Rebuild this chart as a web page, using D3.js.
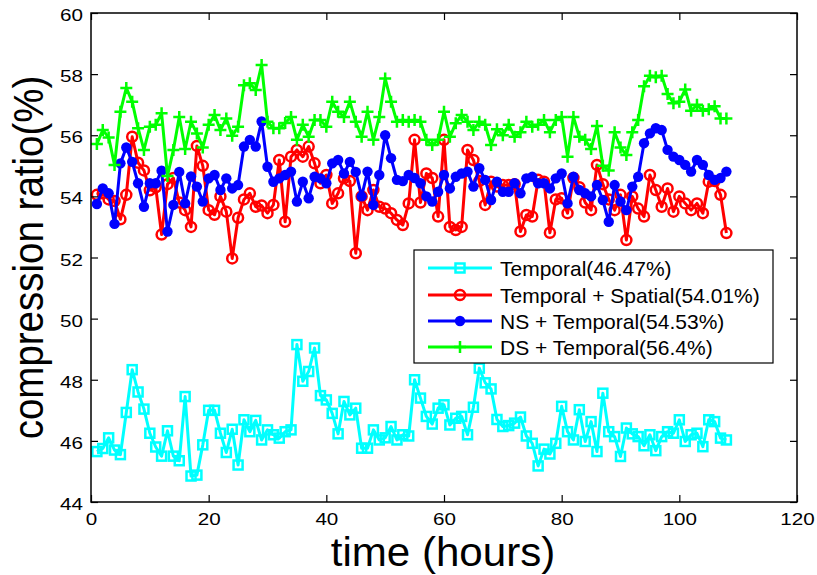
<!DOCTYPE html>
<html><head><meta charset="utf-8">
<script src="https://cdn.jsdelivr.net/npm/d3@7"></script>
<style>body{margin:0;background:#fff}svg{display:block}text{font-family:"Liberation Sans",Arial,sans-serif}</style>
</head><body><svg id="c" width="817" height="575"></svg>
<script>
const hours = d3.range(1, 109);
const temporal = [45.65,45.75,46.1,45.7,45.55,46.93,48.33,47.6,47.04,46.25,45.8,45.5,46.33,45.5,45.35,47.45,44.85,44.88,45.87,47.0,47.0,46.25,45.62,46.38,45.21,46.69,46.3,46.67,46.03,46.36,46.2,46.09,46.3,46.36,49.15,47.95,48.27,49.04,47.48,47.34,46.9,46.23,47.29,46.85,47.07,45.76,45.76,46.36,46.03,46.1,46.47,46.03,46.2,46.16,48.0,47.4,46.8,46.55,47.07,47.18,46.52,46.74,46.8,46.2,47.1,48.38,47.9,47.7,46.7,46.47,46.5,46.58,46.78,46.16,45.92,45.18,45.73,45.57,45.92,47.13,46.3,46.03,47.02,45.98,46.63,45.65,47.56,46.3,46.14,45.49,46.42,46.23,46.14,45.84,46.2,45.68,46.14,46.3,46.25,46.69,45.98,46.2,46.25,45.81,46.69,46.63,46.09,46.03];
const temporalSpatial = [54.05,54.1,53.9,53.85,53.25,54.05,55.95,55.1,54.85,54.2,54.3,52.75,54.4,54.6,53.8,53.55,53.0,55.65,55.0,53.55,53.4,54.0,53.5,51.97,53.3,53.9,54.1,53.66,53.7,53.45,53.72,55.19,53.17,55.3,55.52,55.3,55.63,55.08,54.43,54.7,53.77,54.1,54.59,54.5,52.14,54.0,53.55,54.21,53.66,53.6,53.45,53.23,53.06,53.77,55.85,53.8,54.75,54.6,53.34,55.85,53.0,52.9,53.0,55.52,55.19,54.5,53.72,54.48,54.32,54.37,54.37,54.4,52.85,53.39,53.34,54.54,54.48,52.81,53.9,53.94,53.45,54.6,54.3,53.8,53.55,55.03,54.4,53.9,53.55,54.05,52.57,54.0,53.6,53.34,54.7,54.21,53.66,54.26,53.5,54.0,53.77,53.55,53.77,53.45,54.48,54.5,54.05,52.8];
const nsTemporal = [53.75,54.26,54.1,53.1,55.08,55.6,55.13,54.43,53.66,54.43,54.43,54.84,52.85,53.72,54.8,53.77,54.65,54.32,53.83,54.59,54.7,54.21,54.59,54.26,54.37,55.63,55.85,55.63,56.45,54.97,54.48,54.59,54.7,54.81,53.83,54.48,53.94,54.64,54.59,54.43,55.08,55.19,54.75,55.13,54.8,54.0,54.81,53.72,54.7,56.0,55.25,54.54,54.5,54.7,54.6,54.43,54.0,53.83,54.15,54.7,54.26,54.64,54.75,54.81,54.32,54.92,54.54,53.88,54.48,54.15,54.15,54.43,54.1,54.59,54.64,54.43,54.43,54.26,54.59,54.75,53.77,54.64,54.21,54.1,54.0,54.37,53.88,53.17,54.37,53.83,53.55,54.32,54.64,55.74,56.06,56.23,56.17,55.52,55.3,55.19,55.03,54.81,55.19,55.03,54.7,54.54,54.6,54.81];
const dsTemporal = [55.71,56.17,55.93,55.03,56.77,57.55,57.1,56.23,55.52,56.28,56.34,56.72,54.67,55.52,56.6,55.55,56.44,56.06,55.6,56.34,56.66,56.17,56.55,55.98,56.28,57.64,57.7,57.48,58.3,56.44,56.23,56.23,56.4,56.6,55.85,56.34,55.95,56.5,56.5,56.28,57.1,56.77,56.6,57.1,56.44,55.95,56.77,55.85,56.6,57.86,57.1,56.44,56.5,56.44,56.5,56.44,55.85,55.68,55.85,56.77,55.95,56.39,56.66,56.44,56.17,56.44,56.34,55.68,56.2,56.0,56.34,55.95,56.1,56.44,56.28,56.34,56.5,56.1,56.5,56.6,55.3,56.6,55.95,55.85,55.55,56.3,55.0,54.85,56.1,55.6,55.35,56.1,56.5,57.6,57.95,57.9,57.95,57.35,57.05,57.1,57.5,56.8,57.0,56.8,56.85,56.95,56.55,56.55];
const legendLabels = ["Temporal(46.47%)","Temporal + Spatial(54.01%)","NS + Temporal(54.53%)","DS + Temporal(56.4%)"];
const xTicks = [0,20,40,60,80,100,120];
const yTicks = [44,46,48,50,52,54,56,58,60];

const svg = d3.select("#c");
const L=91,R=797,T=13,B=502;
const x = d3.scaleLinear().domain([0,120]).range([L,R]);
const y = d3.scaleLinear().domain([44,60]).range([B,T]);

const series = [
  {vals:temporal, color:"#00ffff", marker:"square"},
  {vals:temporalSpatial, color:"#ff0000", marker:"circle"},
  {vals:nsTemporal, color:"#0000ff", marker:"dot"},
  {vals:dsTemporal, color:"#00ff00", marker:"plus"}
];

function drawMarker(g, type, color){
  if(type==="square") g.append("rect").attr("x",-4.5).attr("y",-4.5).attr("width",9).attr("height",9).attr("fill","none").attr("stroke",color).attr("stroke-width",2.5);
  else if(type==="circle") g.append("circle").attr("r",5).attr("fill","none").attr("stroke",color).attr("stroke-width",2.5);
  else if(type==="dot") g.append("circle").attr("r",5.2).attr("fill",color);
  else g.append("path").attr("d","M-6,0H6M0,-6V6").attr("stroke",color).attr("stroke-width",2.5).attr("fill","none");
}

const line = d3.line().x((d,i)=>x(hours[i])).y(d=>y(d));
series.forEach(s=>{
  const g = svg.append("g");
  g.append("path").datum(s.vals).attr("d",line).attr("fill","none").attr("stroke",s.color).attr("stroke-width",3).attr("stroke-linejoin","round");
  g.selectAll("g.m").data(s.vals).join("g").attr("class","m")
    .attr("transform",(d,i)=>`translate(${x(hours[i])},${y(d)})`)
    .each(function(){drawMarker(d3.select(this), s.marker, s.color);});
});

// axes (box with inward ticks)
const fs = 16.5;
const ax = svg.append("g").attr("transform",`translate(0,${B})`).call(d3.axisBottom(x).tickValues(xTicks).tickSizeInner(-7).tickSizeOuter(0));
const axT = svg.append("g").attr("transform",`translate(0,${T})`).call(d3.axisTop(x).tickValues(xTicks).tickSizeInner(-7).tickSizeOuter(0).tickFormat(""));
const ay = svg.append("g").attr("transform",`translate(${L},0)`).call(d3.axisLeft(y).tickValues(yTicks).tickSizeInner(-7).tickSizeOuter(0));
const ayR = svg.append("g").attr("transform",`translate(${R},0)`).call(d3.axisRight(y).tickValues(yTicks).tickSizeInner(-7).tickSizeOuter(0).tickFormat(""));
[ax,axT,ay,ayR].forEach(a=>{
  a.select(".domain").remove();
  a.selectAll("line").attr("stroke","#000").attr("stroke-width",1.2);
  a.selectAll("text").attr("font-size",fs).attr("fill","#000").style("font-family","'Liberation Sans',Arial,sans-serif");
});
ax.selectAll("text").attr("x",0).attr("y",0).attr("dy",0).attr("text-anchor","middle").attr("transform","translate(0,23) scale(1.25,1)");
ay.selectAll("text").attr("x",0).attr("y",0).attr("dy",0).attr("text-anchor","end").attr("transform","translate(-8,7.5) scale(1.25,1)");
svg.append("rect").attr("x",L).attr("y",T).attr("width",R-L).attr("height",B-T).attr("fill","none").attr("stroke","#000").attr("stroke-width",1.5);

svg.append("text").attr("transform",`translate(${(L+R)/2-1},565.5) scale(1.04,1)`).attr("text-anchor","middle").attr("font-size",40.5).text("time (hours)");
svg.append("text").attr("transform",`translate(43,257.5) scale(1.1,1) rotate(-90)`).attr("text-anchor","middle").attr("font-size",38.5).text("compression ratio(%)");

// legend
const lg = svg.append("g");
lg.append("rect").attr("x",414).attr("y",250).attr("width",359).attr("height",113).attr("fill","#fff").attr("stroke","#000").attr("stroke-width",1.2);
const rowY = [268,295,321,347];
series.forEach((s,i)=>{
  lg.append("line").attr("x1",428).attr("x2",492).attr("y1",rowY[i]).attr("y2",rowY[i]).attr("stroke",s.color).attr("stroke-width",3);
  const m = lg.append("g").attr("transform",`translate(460,${rowY[i]})`);
  drawMarker(m, s.marker, s.color);
  lg.append("text").attr("x",500).attr("y",rowY[i]).attr("dy","0.36em").attr("font-size",21).text(legendLabels[i]);
});
</script></body></html>
